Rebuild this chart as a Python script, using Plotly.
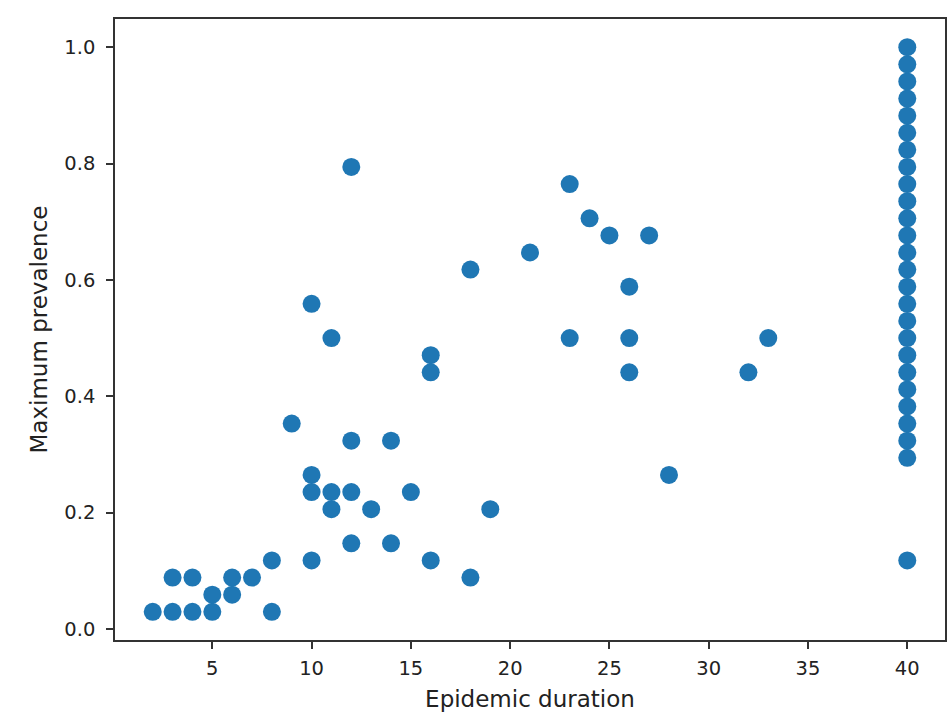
import plotly.graph_objects as go

# Epidemic duration (x) and maximum prevalence (y, in units of 1/34)
duration = [2, 3, 3, 4, 4, 5, 5, 6, 6, 7, 8, 8, 9,
            10, 10, 10, 10, 11, 11, 11, 12, 12, 12, 12, 13, 14, 14, 15,
            16, 16, 16, 18, 18, 19, 21, 23, 23, 24, 25, 26, 26, 26, 27, 28, 32, 33]
prev_k = [1, 1, 3, 1, 3, 1, 2, 2, 3, 3, 4, 1, 12,
          19, 9, 8, 4, 17, 8, 7, 27, 11, 8, 5, 7, 11, 5, 8,
          16, 15, 4, 21, 3, 7, 22, 26, 17, 24, 23, 20, 17, 15, 23, 9, 15, 17]
# Runs reaching the 40-step cap
capped_duration = 40
capped_k = [4] + list(range(10, 35))

x_vals = duration + [capped_duration] * len(capped_k)
y_vals = [k / 34 for k in prev_k + capped_k]

fig = go.Figure(go.Scatter(
    x=x_vals, y=y_vals, mode="markers",
    marker=dict(color="#1f77b4", size=18, line=dict(width=0)),
    showlegend=False,
))

tick_font = dict(family="DejaVu Sans", size=19.5, color="#222222")
title_font = dict(family="DejaVu Sans", size=23, color="#222222")
axis_common = dict(
    showgrid=False, zeroline=False, showline=True, linecolor="#333333", linewidth=1.5,
    mirror=True, ticks="outside", ticklen=7, tickcolor="#333333", tickwidth=1.5,
    tickfont=tick_font, automargin=False,
)
fig.update_xaxes(range=[0.1, 41.9], tickvals=[5, 10, 15, 20, 25, 30, 35, 40],
                 ticklabelstandoff=3,
                 title=dict(text="Epidemic duration", font=title_font, standoff=12),
                 **axis_common)
fig.update_yaxes(range=[-0.0191, 1.0485], tickvals=[0, 0.2, 0.4, 0.6, 0.8, 1.0], tickformat=".1f",
                 ticklabelstandoff=7,
                 title=dict(text="Maximum prevalence", font=title_font, standoff=10),
                 **axis_common)
fig.update_layout(
    width=949, height=718,
    margin=dict(l=115, r=4, t=19, b=78),
    plot_bgcolor="white", paper_bgcolor="white",
    font=dict(family="DejaVu Sans", size=19.5, color="#222222"),
)
fig.write_html("out.html", config={"displayModeBar": False},
               post_script="document.body.style.margin='0';document.body.style.overflow='hidden';")
